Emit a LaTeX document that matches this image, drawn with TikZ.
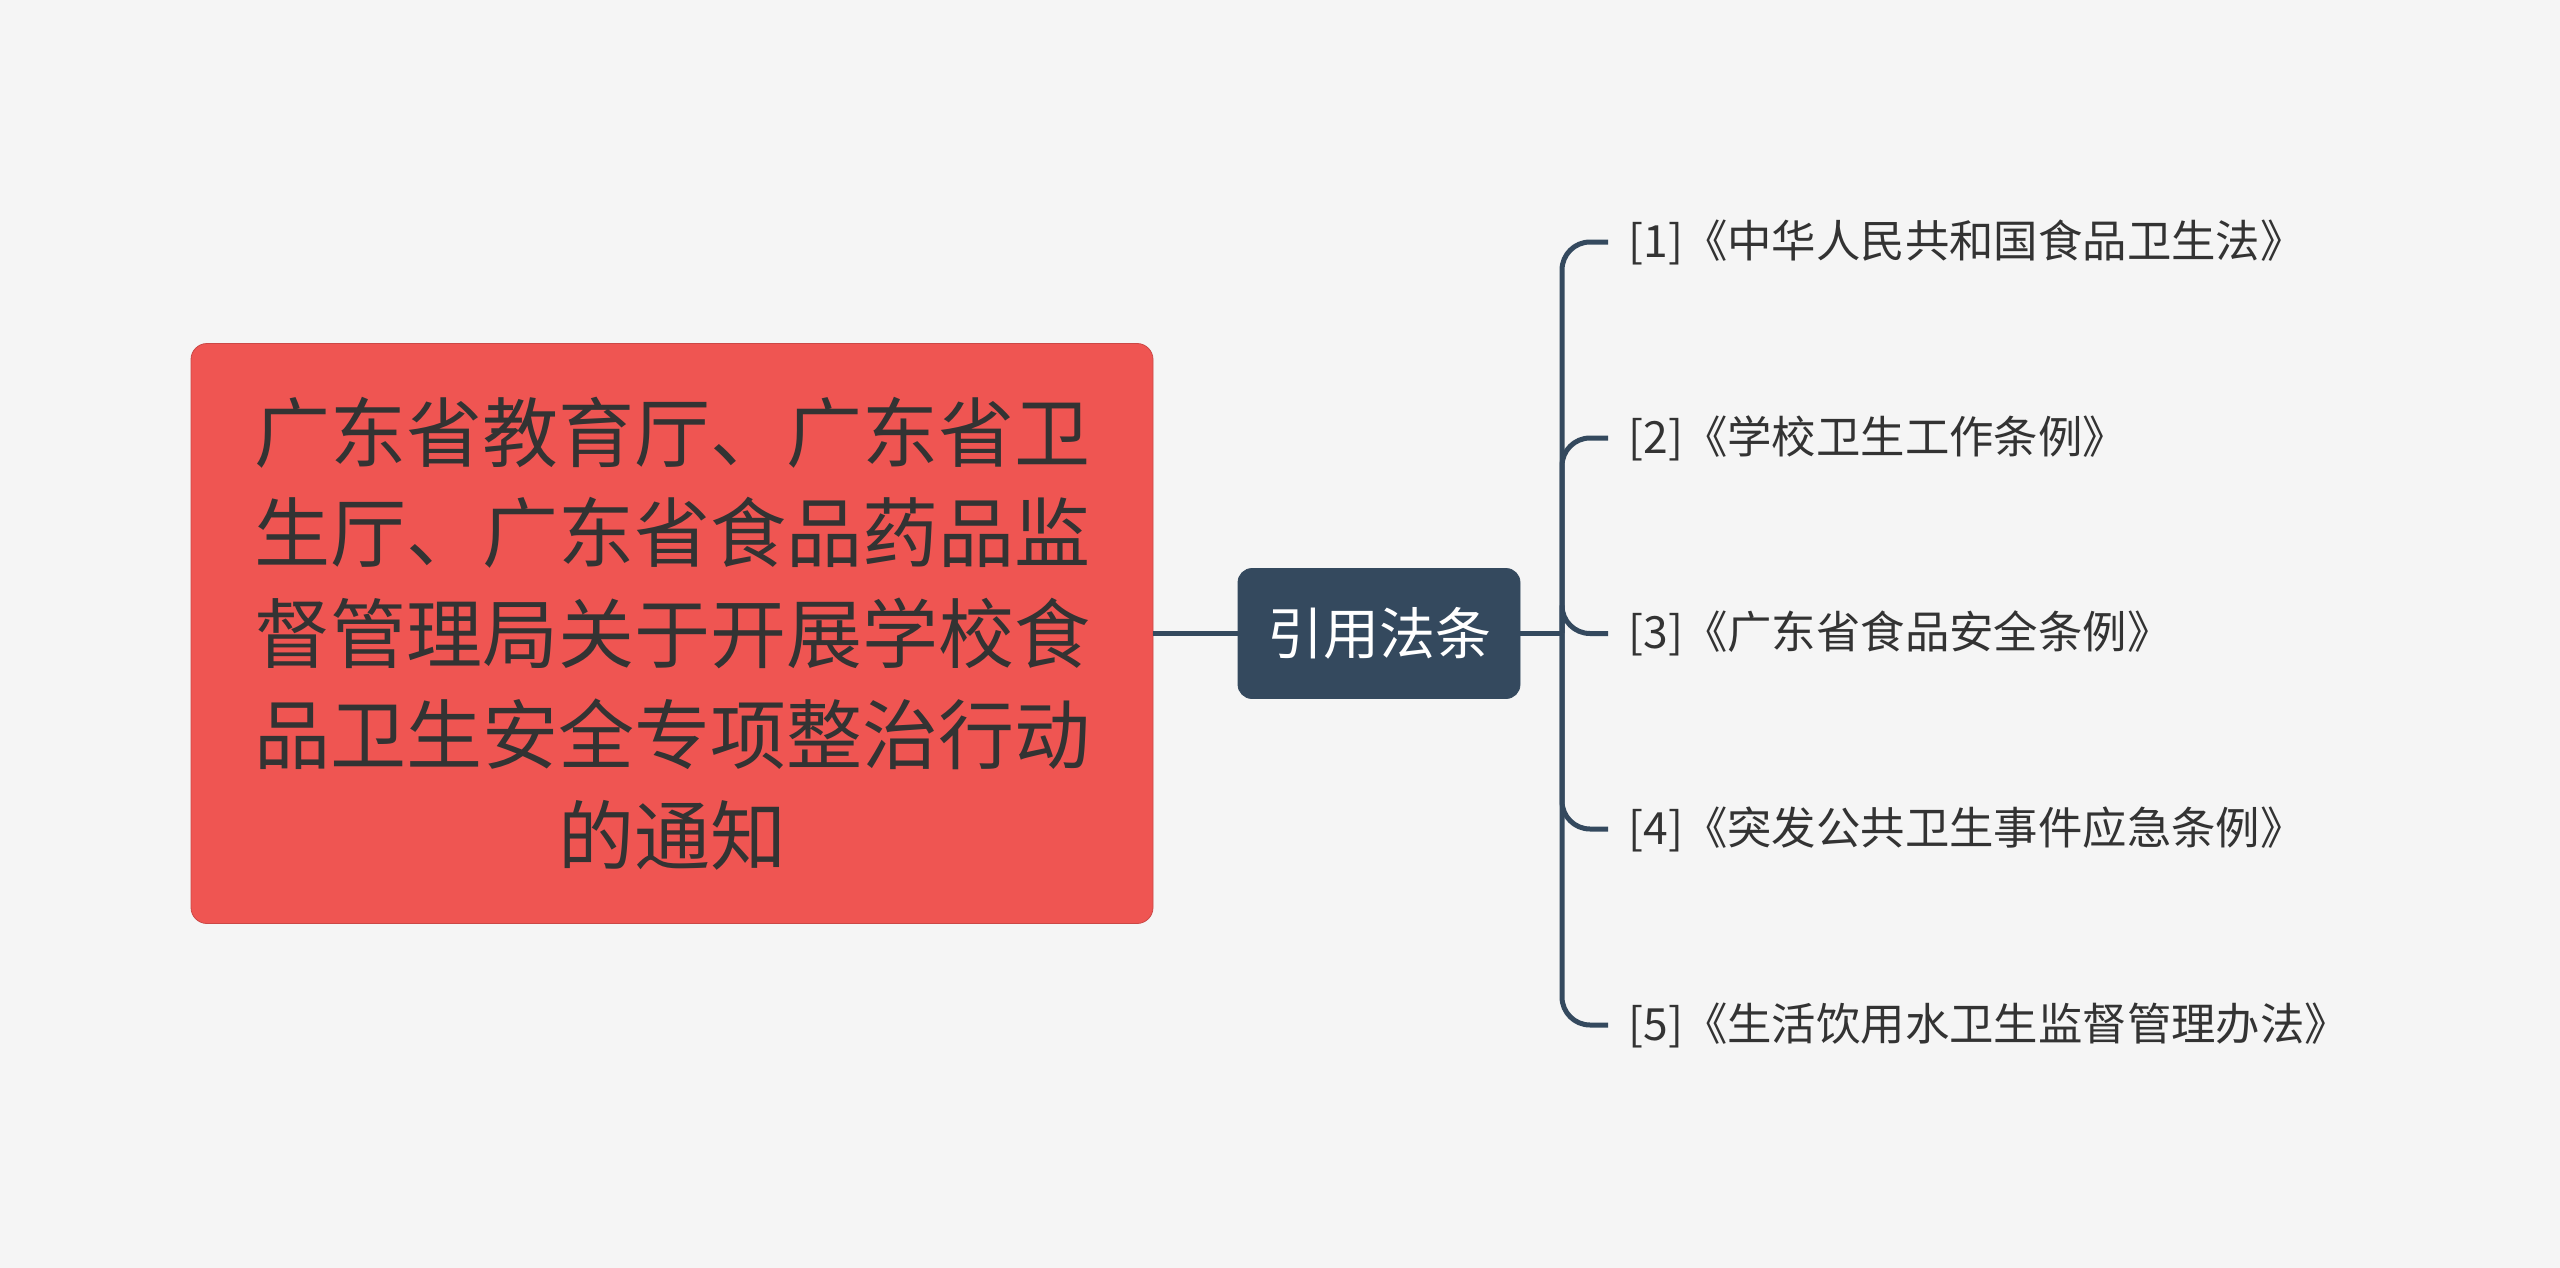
\documentclass[tikz,border=0pt]{standalone}
\usepackage{fontspec}
\setmainfont{Noto Sans CJK SC}
\usepackage{tikz}
\definecolor{bgc}{RGB}{245,245,245}
\definecolor{redc}{RGB}{239,85,82}
\definecolor{navyc}{RGB}{52,73,94}
\definecolor{inkc}{RGB}{51,51,51}
\tikzset{
  topic/.style={rectangle,rounded corners=8pt,fill=redc,draw=redc!85!black,line width=0.4pt,
    minimum width=481pt,minimum height=290pt,align=center,text=inkc,
    font=\fontsize{38pt}{50.4pt}\selectfont},
  mid/.style={rectangle,rounded corners=7pt,fill=navyc,draw=navyc,minimum width=141pt,
    minimum height=65pt,text=white,font=\fontsize{28pt}{33pt}\selectfont},
  leaf/.style={anchor=west,inner xsep=10pt,inner ysep=0pt,text=inkc,
    font=\fontsize{22.2pt}{27pt}\selectfont},
  link/.style={draw=navyc,line width=2.5pt}
}
\begin{document}
\begin{tikzpicture}[x=0.5pt,y=-0.5pt]
\fill[bgc] (0,0) rectangle (2560,1268);
\useasboundingbox (0,0) rectangle (2560,1268);
\node[topic] (t) at (672,633.5) {广东省教育厅、广东省卫\\生厅、广东省食品药品监\\督管理局关于开展学校食\\品卫生安全专项整治行动\\的通知};
\node[mid] (m) at (1379,633.5) {引用法条};
\coordinate (jn) at (1562,633.5);
\node[leaf] (r1) at (1608,242) {[1]《中华人民共和国食品卫生法》};
\node[leaf] (r2) at (1608,438) {[2]《学校卫生工作条例》};
\node[leaf] (r3) at (1608,633.5) {[3]《广东省食品安全条例》};
\node[leaf] (r4) at (1608,829) {[4]《突发公共卫生事件应急条例》};
\node[leaf] (r5) at (1608,1025) {[5]《生活饮用水卫生监督管理办法》};
\draw[link] (t.east) -- (m.west);
\draw[link] (m.east) -- (jn);
\foreach \i in {1,2,3,4,5}{\draw[link,rounded corners=14pt] (jn) |- (r\i.west);}
\end{tikzpicture}
\end{document}
